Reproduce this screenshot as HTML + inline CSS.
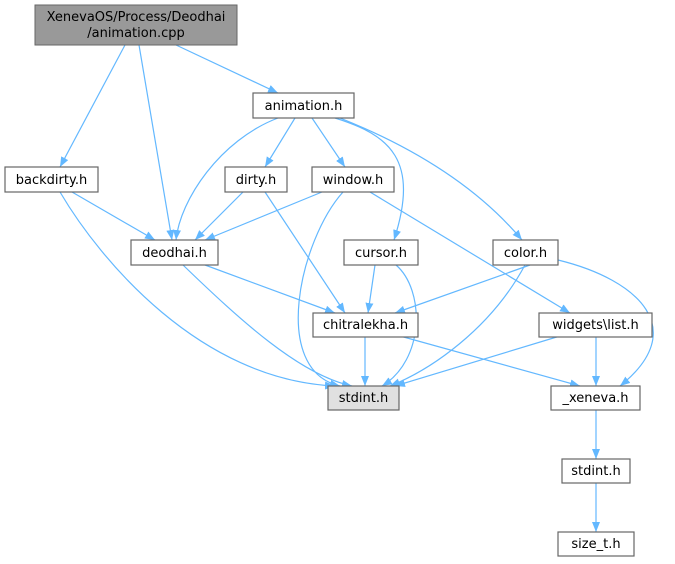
<!DOCTYPE html>
<html><head><style>
body{margin:0;background:#fff;}
svg{display:block;font-family:"DejaVu Sans","Liberation Sans",sans-serif;font-size:13px;}
.n{fill:#fff;stroke:#666;stroke-width:1.2}
.e{fill:none;stroke:#63b8ff;stroke-width:1.2}
</style></head><body>
<svg width="675" height="564" viewBox="0 0 675 564">
<defs><marker id="a" markerWidth="10" markerHeight="8" refX="10" refY="4" orient="auto" markerUnits="userSpaceOnUse"><path d="M0,0 L10,4 L0,8 z" fill="#63b8ff"/></marker></defs>
<g class="e" marker-end="url(#a)">
<path d="M125,45 L60,167"/>
<path d="M139,45 L172,240"/>
<path d="M176,45 L278,93"/>
<path d="M278,118 C220,140 180,200 176,240"/>
<path d="M295,118 L265,167"/>
<path d="M312,118 L345,167"/>
<path d="M335,118 C390,135 420,160 394,240"/>
<path d="M340,118 C420,150 480,190 522,240"/>
<path d="M72,192 L155,240"/>
<path d="M60,192 C100,260 200,380 335,386"/>
<path d="M243,192 L195,240"/>
<path d="M265,192 L345,313"/>
<path d="M322,192 L205,240"/>
<path d="M343,192 C300,240 270,370 340,386"/>
<path d="M370,192 L570,313"/>
<path d="M183,265 C240,320 300,375 352,386"/>
<path d="M205,265 L335,313"/>
<path d="M375,265 L368,313"/>
<path d="M396,265 C425,290 425,360 382,386"/>
<path d="M530,265 L395,313"/>
<path d="M525,265 C490,330 430,370 390,386"/>
<path d="M558,260 C640,280 690,330 620,386"/>
<path d="M365,336 L365,386"/>
<path d="M400,336 L580,386"/>
<path d="M560,336 L395,386"/>
<path d="M596,336 L596,386"/>
<path d="M596,409 L596,459"/>
<path d="M596,482 L596,532"/>
</g>
<rect x="35" y="5" width="202" height="40" fill="#999" stroke="#666"/>
<text x="136" y="21" text-anchor="middle">XenevaOS/Process/Deodhai</text>
<text x="136" y="37" text-anchor="middle">/animation.cpp</text>
<g class="n">
<rect x="253" y="93" width="101" height="25"/>
<rect x="5" y="167" width="93" height="25"/>
<rect x="225" y="167" width="62" height="25"/>
<rect x="312" y="167" width="82" height="25"/>
<rect x="131" y="240" width="87" height="25"/>
<rect x="344" y="240" width="74" height="25"/>
<rect x="493" y="240" width="65" height="25"/>
<rect x="313" y="313" width="105" height="24"/>
<rect x="539" y="313" width="113" height="24"/>
<rect x="328" y="386" width="71" height="24" style="fill:#e0e0e0"/>
<rect x="551" y="386" width="89" height="24"/>
<rect x="562" y="459" width="68" height="24"/>
<rect x="558" y="532" width="76" height="24"/>
</g>
<g text-anchor="middle">
<text x="303.5" y="110">animation.h</text>
<text x="51.5" y="184">backdirty.h</text>
<text x="256" y="184">dirty.h</text>
<text x="353" y="184">window.h</text>
<text x="174.5" y="257">deodhai.h</text>
<text x="381" y="257">cursor.h</text>
<text x="525.5" y="257">color.h</text>
<text x="365.5" y="329">chitralekha.h</text>
<text x="595.5" y="329">widgets\list.h</text>
<text x="363.5" y="402">stdint.h</text>
<text x="595.5" y="402">_xeneva.h</text>
<text x="596" y="475">stdint.h</text>
<text x="596" y="548">size_t.h</text>
</g>
</svg>
</body></html>
